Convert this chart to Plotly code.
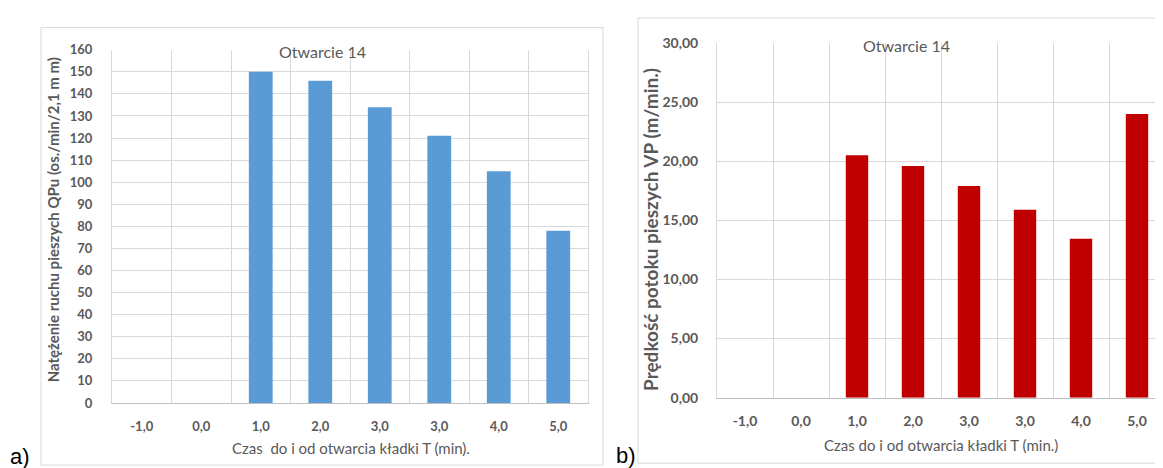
import plotly.graph_objects as go

# ---- data ----
categories = ["-1,0", "0,0", "1,0", "2,0", "3,0", "3,0", "4,0", "5,0"]
flow_qpu = [None, None, 150, 146, 134, 121, 105, 78]          # chart a)
speed_vp = [None, None, 20.5, 19.6, 17.9, 15.9, 13.45, 24.0]  # chart b)
y1_ticks = list(range(0, 161, 10))
y2_ticks = [0, 5, 10, 15, 20, 25, 30]

W, H = 1163, 468
def px(x):
    return x / W
def py(y):
    return 1 - y / H

pos = list(range(len(categories)))
bounds = [i - 0.5 for i in range(len(categories) + 1)]

GRID = "#d9d9d9"
TXT = "#595959"
FONT = "Lato"

fig = go.Figure()
fig.add_trace(go.Bar(x=pos, y=flow_qpu, marker=dict(color="#5b9bd5", line=dict(width=0)),
                     width=0.4, xaxis="x", yaxis="y", showlegend=False))
fig.add_trace(go.Bar(x=pos, y=speed_vp, marker=dict(color="#c00000", line=dict(width=0)),
                     width=0.4, xaxis="x2", yaxis="y2", showlegend=False))

def xaxis(domain, anchor, size):
    return dict(domain=domain, anchor=anchor, range=[-0.5, len(categories) - 0.5],
                tickmode="array", tickvals=pos, ticktext=categories, showgrid=False,
                zeroline=False, showline=True, linecolor="#bfbfbf", linewidth=1,
                ticks="", ticklabelstandoff=11,
                tickfont=dict(family=FONT, size=size, color=TXT, weight="bold"),
                minor=dict(tickmode="array", tickvals=bounds, showgrid=True,
                           gridcolor=GRID, gridwidth=1, ticks=""),
                fixedrange=True)

def yaxis(domain, anchor, rng, ticks, fmt, size, standoff):
    return dict(domain=domain, anchor=anchor, range=rng, tickmode="array", tickvals=ticks,
                tickformat=fmt, showgrid=True, gridcolor=GRID, gridwidth=1,
                zeroline=False, showline=True, mirror=True, linecolor=GRID,
                ticks="", ticklabelstandoff=standoff,
                tickfont=dict(family=FONT, size=size, color=TXT, weight="bold"),
                fixedrange=True)

fig.update_layout(
    width=W, height=H, margin=dict(l=0, r=0, t=0, b=0),
    paper_bgcolor="white", plot_bgcolor="white", separators=", ",
    bargap=0.6, showlegend=False,
    xaxis=xaxis([px(104), px(580)], "y", 13),
    yaxis=yaxis([py(400.5), py(34)], "x", [0, 160], y1_ticks, "d", 13, 16),
    xaxis2=xaxis([px(709), px(1157)], "y2", 14),
    yaxis2=yaxis([py(395), py(27)], "x2", [0, 30], y2_ticks, ".2f", 14, 15),
)

shapes = [
    dict(type="rect", xref="paper", yref="paper", x0=px(33), x1=px(595), y0=py(465), y1=py(11),
         line=dict(color=GRID, width=1), fillcolor="rgba(0,0,0,0)", layer="below"),
    dict(type="rect", xref="paper", yref="paper", x0=px(630), x1=px(1170), y0=py(463), y1=py(1),
         line=dict(color=GRID, width=1), fillcolor="rgba(0,0,0,0)", layer="below"),
]
fig.update_layout(shapes=shapes)

ann = []
def a(text, x, y, size, bold=False, angle=0, color=TXT, family=FONT, xanchor="center"):
    ann.append(dict(text=text, x=px(x), y=py(y), xref="paper", yref="paper",
                    showarrow=False, textangle=angle, xanchor=xanchor, yanchor="middle",
                    font=dict(family=family, size=size, color=color,
                              weight="bold" if bold else "normal")))

a("Otwarcie 14", 314, 36, 16)
a("Otwarcie 14", 898, 30, 16)
a("Natężenie ruchu pieszych QPu (os./min/2,1 m m)", 45, 211, 15, bold=True, angle=-90)
a("Prędkość potoku pieszych VP (m/min.)", 643, 221, 19, bold=True, angle=-90)
a("Czas  do i od otwarcia kładki T (min).", 343, 447, 15)
a("Czas do i od otwarcia kładki T (min.)", 933, 444, 15)
a("a)", 0, 456, 22, color="black", family="Liberation Sans", xanchor="left")
a("b)", 606, 455, 22, color="black", family="Liberation Sans", xanchor="left")
fig.update_layout(annotations=ann)

fig.write_html("out.html")
